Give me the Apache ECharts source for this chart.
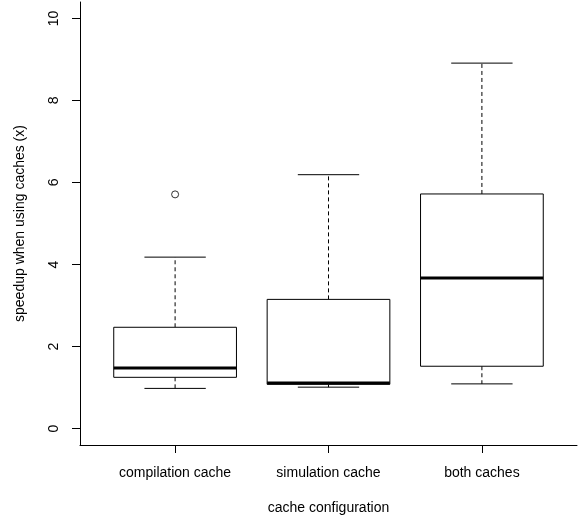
<!DOCTYPE html>
<html>
<head>
<meta charset="utf-8">
<script src="https://cdn.jsdelivr.net/npm/echarts@6/dist/echarts.min.js"></script>
<style>
html,body{margin:0;padding:0;background:#fff;}
#c{width:578px;height:515px;}
</style>
</head>
<body>
<div id="c"></div>
<script>
const categories = ['compilation cache', 'simulation cache', 'both caches'];
const whiskerLow = [0.98, 1.01, 1.09];
const quartile1 = [1.25, 1.08, 1.52];
const medians = [1.48, 1.11, 3.67];
const quartile3 = [2.47, 3.15, 5.72];
const whiskerHigh = [4.18, 6.19, 8.91];
const outlierCategory = [0];
const outlierValue = [5.71];
const yTicks = [0, 2, 4, 6, 8, 10];
const xTicks = [1, 2, 3];

const FONT = 'Liberation Sans, Arial, Helvetica, sans-serif';
const chart = echarts.init(document.getElementById('c'), null, {renderer: 'canvas'});

const boxData = categories.map((c, i) => [i + 1, whiskerLow[i], quartile1[i], medians[i], quartile3[i], whiskerHigh[i]]);
const outData = outlierCategory.map((c, i) => [c + 1, outlierValue[i]]);

function renderBox(params, api) {
  const x = api.value(0);
  const lo = api.value(1), q1 = api.value(2), med = api.value(3), q3 = api.value(4), hi = api.value(5);
  const bw = 0.4, cw = 0.2;
  const pL = api.coord([x - bw, q3]);
  const pR = api.coord([x + bw, q1]);
  const cx = api.coord([x, 0])[0];
  const yLo = api.coord([x, lo])[1], yQ1 = api.coord([x, q1])[1], yMed = api.coord([x, med])[1];
  const yQ3 = api.coord([x, q3])[1], yHi = api.coord([x, hi])[1];
  const cL = api.coord([x - cw, 0])[0], cR = api.coord([x + cw, 0])[0];
  const solid = {stroke: '#000', lineWidth: 1, fill: null};
  const dashed = {stroke: '#000', lineWidth: 1, lineDash: [4, 3], fill: null};
  return {
    type: 'group',
    children: [
      {type: 'line', shape: {x1: cx, y1: yQ3, x2: cx, y2: yHi}, style: dashed},
      {type: 'line', shape: {x1: cx, y1: yQ1, x2: cx, y2: yLo}, style: dashed},
      {type: 'line', shape: {x1: cL, y1: yHi, x2: cR, y2: yHi}, style: solid},
      {type: 'line', shape: {x1: cL, y1: yLo, x2: cR, y2: yLo}, style: solid},
      {type: 'rect', shape: {x: pL[0], y: yQ3, width: pR[0] - pL[0], height: yQ1 - yQ3}, style: {stroke: '#000', lineWidth: 1, fill: '#fff'}},
      {type: 'line', shape: {x1: pL[0], y1: yMed, x2: pR[0], y2: yMed}, style: {stroke: '#000', lineWidth: 3}}
    ]
  };
}

chart.setOption({
  animation: false,
  backgroundColor: '#fff',
  grid: {left: 80, right: 1, top: 2, bottom: 70, containLabel: false, outerBoundsMode: 'none'},
  xAxis: {
    type: 'value', min: 0.38, max: 3.62,
    name: 'cache configuration', nameLocation: 'middle', nameGap: 56,
    nameTextStyle: {color: '#000', fontSize: 14, fontFamily: FONT},
    splitLine: {show: false},
    axisLine: {show: true, onZero: false, lineStyle: {color: '#000', width: 1}},
    axisTick: {show: true, length: 8, customValues: xTicks, lineStyle: {color: '#000'}},
    axisLabel: {show: true, customValues: xTicks, margin: 21, color: '#000', fontSize: 14, fontFamily: FONT,
      formatter: v => categories[Math.round(v) - 1] || ''}
  },
  yAxis: {
    type: 'value', min: -0.4, max: 10.4,
    name: 'speedup when using caches (x)', nameLocation: 'middle', nameGap: 53, nameRotate: 90,
    nameTextStyle: {color: '#000', fontSize: 14, fontFamily: FONT},
    splitLine: {show: false},
    axisLine: {show: true, onZero: false, lineStyle: {color: '#000', width: 1}},
    axisTick: {show: true, length: 8, customValues: yTicks, lineStyle: {color: '#000'}},
    axisLabel: {show: true, customValues: yTicks, rotate: 90, margin: 19, color: '#000', fontSize: 14, fontFamily: FONT}
  },
  series: [
    {type: 'custom', renderItem: renderBox, data: boxData, encode: {x: 0, y: [1, 2, 3, 4, 5]}, clip: false},
    {type: 'scatter', data: outData, symbol: 'circle', symbolSize: 7,
      itemStyle: {color: '#fff', borderColor: '#000', borderWidth: 1}}
  ]
});
</script>
</body>
</html>
